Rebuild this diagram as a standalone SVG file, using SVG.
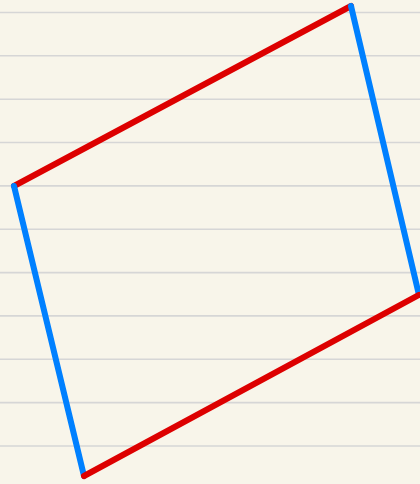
<svg xmlns="http://www.w3.org/2000/svg" width="420" height="484" viewBox="0 0 420 484">
<style>
.rule{stroke:#d6d6d6;stroke-width:1.6}
.edge{stroke-width:6;stroke-linecap:round;fill:none}
.red{stroke:#dd0000}
.blue{stroke:#0080ff}
</style>
<rect width="420" height="484" fill="#f8f5ea"/>
<g id="rules">
<line class="rule" x1="0" x2="420" y1="12.5" y2="12.5"/>
<line class="rule" x1="0" x2="420" y1="55.8" y2="55.8"/>
<line class="rule" x1="0" x2="420" y1="99.2" y2="99.2"/>
<line class="rule" x1="0" x2="420" y1="142.5" y2="142.5"/>
<line class="rule" x1="0" x2="420" y1="185.9" y2="185.9"/>
<line class="rule" x1="0" x2="420" y1="229.2" y2="229.2"/>
<line class="rule" x1="0" x2="420" y1="272.6" y2="272.6"/>
<line class="rule" x1="0" x2="420" y1="315.9" y2="315.9"/>
<line class="rule" x1="0" x2="420" y1="359.3" y2="359.3"/>
<line class="rule" x1="0" x2="420" y1="402.6" y2="402.6"/>
<line class="rule" x1="0" x2="420" y1="446" y2="446"/>
</g>
<g id="connectors">
<line class="edge red" x1="14" y1="186" x2="351" y2="6"/>
<line class="edge blue" x1="351" y1="6" x2="419" y2="295"/>
<line class="edge blue" x1="14" y1="186" x2="84" y2="476"/>
<line class="edge red" x1="84" y1="476" x2="419" y2="295"/>
</g>
</svg>
